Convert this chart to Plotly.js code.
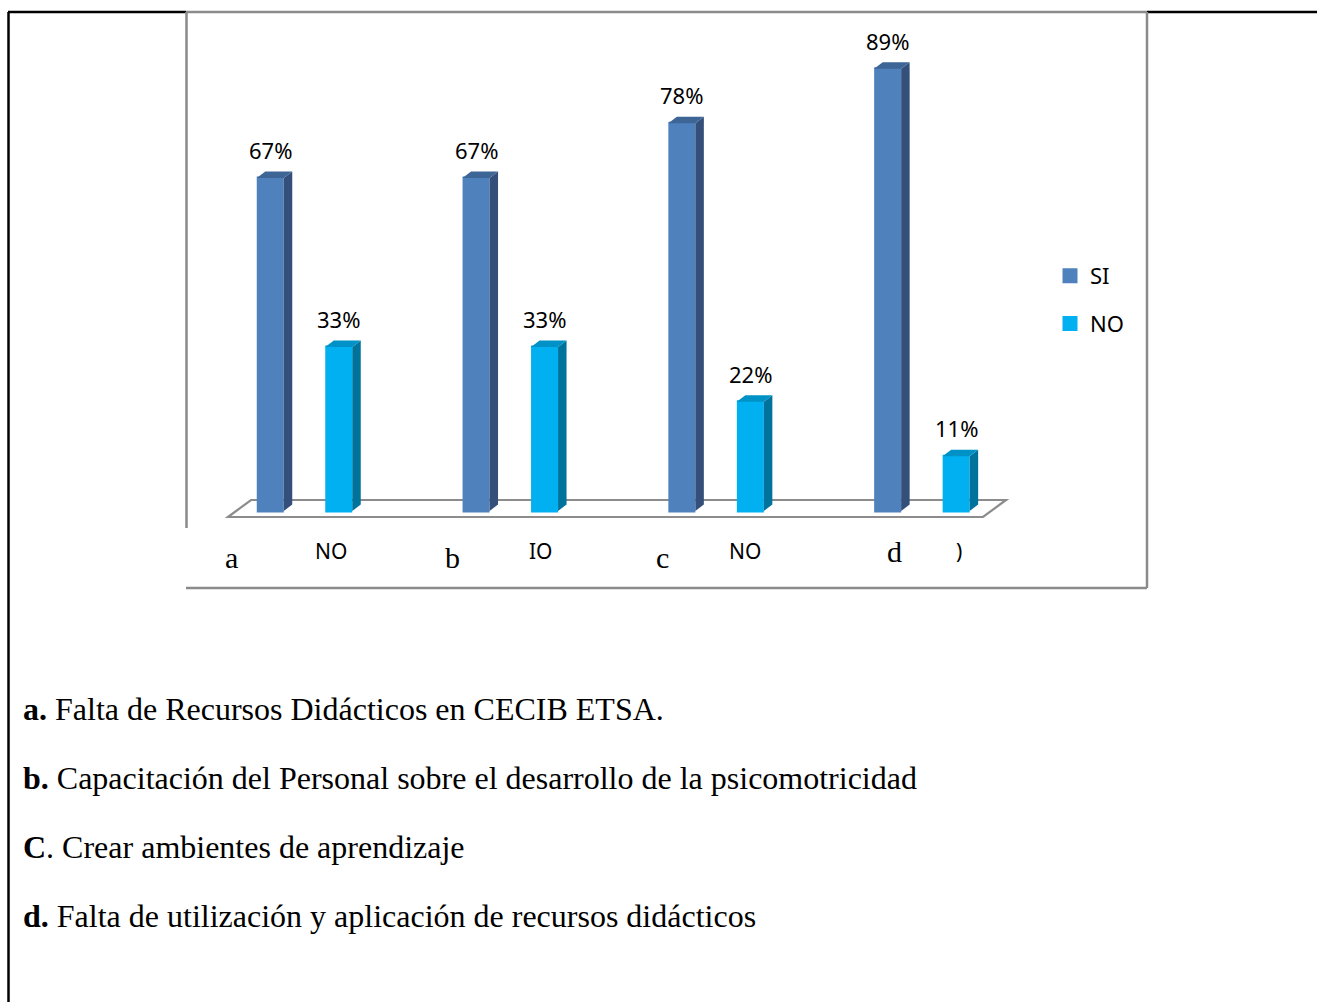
<!DOCTYPE html>
<html>
<head>
<meta charset="utf-8">
<script src="https://cdn.plot.ly/plotly-3.0.1.min.js"></script>
<style>html,body{margin:0;padding:0;background:#fff;}#chart{width:1317px;height:1002px;}</style>
</head>
<body>
<div id="chart"></div>
<script>
// ---- data ----
const categories = ['a', 'b', 'c', 'd'];
const seriesNames = ['SI', 'NO'];
const siValues = [67, 67, 78, 89];
const noValues = [33, 33, 22, 11];
const axisLabels = ['NO', 'IO', 'NO', ')'];
const noteLetters = ['a.', 'b.', 'C', 'd.'];
const noteTexts = [
  ' Falta de Recursos Didácticos en CECIB ETSA.',
  ' Capacitación del Personal sobre el desarrollo de la psicomotricidad',
  '. Crear ambientes de aprendizaje',
  ' Falta de utilización y aplicación de recursos didácticos'
];

// ---- geometry / style ----
const W = 1317, H = 1002;
const pxPerUnitX = 205.8, pxPerUnitY = 4.97;
const x0 = -304.5 / pxPerUnitX;
const y1 = 511 / pxPerUnitY;
const xRange = [x0, x0 + W / pxPerUnitX];
const yRange = [y1 - H / pxPerUnitY, y1];
const lineW = 3;
const barW = (27 - lineW) / pxPerUnitX;
const faceW = 27 / pxPerUnitX;
const offset = 34.25 / pxPerUnitX;
const dX = 8.5 / pxPerUnitX;
const dY = 6.5 / pxPerUnitY;
const px = x => x / W;
const py = y => 1 - y / H;

const colors = {
  SI: {front: '#4F81BD', side: '#34507A', top: '#3D6596'},
  NO: {front: '#00B0F0', side: '#00739C', top: '#0092C6'}
};
const sansFont = 'Noto Sans, Liberation Sans, Arial, sans-serif';
const serifFont = 'Liberation Serif, Times New Roman, serif';

const series = [
  {name: seriesNames[0], values: siValues, off: -offset, col: colors.SI},
  {name: seriesNames[1], values: noValues, off: offset, col: colors.NO}
];

const traces = [];
const shapes = [];
const annotations = [];

// floor (below bars)
shapes.push({type: 'path', xref: 'paper', yref: 'paper', layer: 'below',
  path: `M ${px(228)} ${py(517)} L ${px(251)} ${py(500)} L ${px(1006)} ${py(500)} L ${px(983)} ${py(517)} Z`,
  line: {color: '#8C8C8C', width: 2.2}, fillcolor: 'rgba(0,0,0,0)'});

series.forEach((s, si) => {
  const xs = categories.map((c, i) => i + s.off);
  traces.push({
    type: 'bar', name: s.name, x: xs, y: s.values, base: 0, width: barW,
    marker: {color: s.col.front, line: {width: lineW, color: s.col.front}},
    legendgroup: 'g' + si, hoverinfo: 'skip', cliponaxis: false
  });
  xs.forEach((x, i) => {
    const v = s.values[i];
    const xl = x - faceW / 2, xr = x + faceW / 2;
    shapes.push({type: 'path', xref: 'x', yref: 'y', layer: 'above',
      path: `M ${xr} 0 L ${xr + dX} ${dY} L ${xr + dX} ${v + dY} L ${xr} ${v} Z`,
      fillcolor: s.col.side, line: {width: 0}});
    shapes.push({type: 'path', xref: 'x', yref: 'y', layer: 'above',
      path: `M ${xl} ${v} L ${xl + dX} ${v + dY} L ${xr + dX} ${v + dY} L ${xr} ${v} Z`,
      fillcolor: s.col.top, line: {width: 0}});
    annotations.push({x: x, y: v, xref: 'x', yref: 'y', text: v + '%', showarrow: false,
      xanchor: 'center', yanchor: 'middle', yshift: 28, font: {family: sansFont, size: 22, color: '#000'}});
  });
});

// category letters and axis label fragments (overlay text positions in the original)
const letterPos = [[231, 557], [452, 557], [662, 557], [894, 551]];
const fragPos = [[331, 551], [541, 551], [745, 551], [959, 551]];
categories.forEach((c, i) => {
  annotations.push({x: px(letterPos[i][0]), y: py(letterPos[i][1]), xref: 'paper', yref: 'paper', text: c,
    showarrow: false, xanchor: 'center', yanchor: 'middle', font: {family: serifFont, size: 30, color: '#000'}});
  annotations.push({x: px(fragPos[i][0]), y: py(fragPos[i][1]), xref: 'paper', yref: 'paper', text: axisLabels[i],
    showarrow: false, xanchor: 'center', yanchor: 'middle', font: {family: sansFont, size: 21, color: '#000'}});
});

// notes below chart
const noteY = [709, 778, 847, 916];
noteLetters.forEach((l, i) => {
  annotations.push({x: px(21), y: py(noteY[i]), xref: 'paper', yref: 'paper', xanchor: 'left', yanchor: 'middle',
    showarrow: false, text: '<b>' + l + '</b>' + noteTexts[i], align: 'left',
    font: {family: serifFont, size: 32, color: '#000'}});
});

// frames
const black = {color: '#000', width: 2.5};
const gray = {color: '#8A8A8A', width: 2.5};
const seg = (xa, ya, xb, yb, line) => ({type: 'line', xref: 'paper', yref: 'paper', layer: 'above',
  x0: px(xa), y0: py(ya), x1: px(xb), y1: py(yb), line: line});
shapes.push(seg(8.5, 12, 8.5, 1002, black));
shapes.push(seg(8, 12, 186, 12, black));
shapes.push(seg(1147, 12, 1317, 12, black));
shapes.push(seg(186, 12, 1147, 12, gray));
shapes.push(seg(186.5, 12, 186.5, 528, gray));
shapes.push(seg(186, 588, 1147, 588, gray));
shapes.push(seg(1147, 12, 1147, 588, gray));

const layout = {
  width: W, height: H, autosize: false,
  margin: {l: 0, r: 0, t: 0, b: 0, pad: 0},
  paper_bgcolor: '#fff', plot_bgcolor: 'rgba(0,0,0,0)',
  barmode: 'overlay', bargap: 0,
  xaxis: {range: xRange, visible: false, fixedrange: true},
  yaxis: {range: yRange, visible: false, fixedrange: true},
  showlegend: true,
  legend: {x: px(1050), xanchor: 'left', y: py(255), yanchor: 'top', bgcolor: 'rgba(0,0,0,0)',
    font: {family: sansFont, size: 22, color: '#000'}, tracegroupgap: 16, itemclick: false, itemdoubleclick: false},
  shapes: shapes, annotations: annotations
};

Plotly.newPlot('chart', traces, layout, {staticPlot: true, displayModeBar: false});
</script>
</body>
</html>
